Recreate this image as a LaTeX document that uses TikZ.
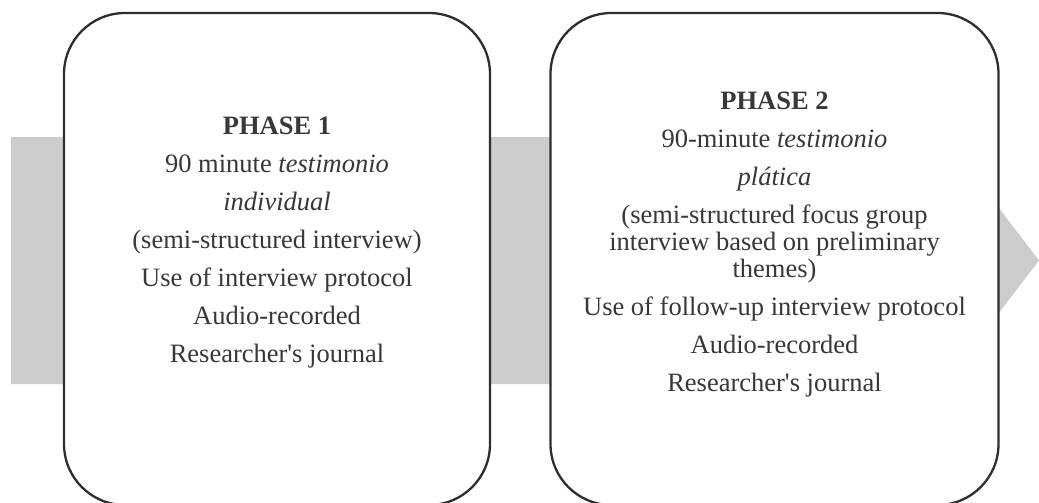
\documentclass[tikz,border=0pt]{standalone}
\usepackage{fontspec}
\setmainfont{Liberation Serif}
\usetikzlibrary{positioning}
\definecolor{linegray}{HTML}{2E2E2E}
\definecolor{textgray}{HTML}{383838}
\definecolor{bandgray}{HTML}{CCCCCC}

\begin{document}
\begin{tikzpicture}[x=0.5pt, y=-0.5pt,
        phasebox/.style={draw=linegray, line width=1.15pt, fill=white,
            rounded corners=30.5pt, minimum height=246pt, inner sep=0pt},
        phasetext/.style={anchor=north, align=center, inner sep=0pt,
            text=textgray, font=\fontsize{13.25}{19}\selectfont}]
        % Frame
        \useasboundingbox (0,0) rectangle (1039,503);
        \clip (0,0) rectangle (1039,503);
        % Process arrow
        \fill [bandgray] (11,137) -- (916,137) -- (916,100) -- (1039,260.5)
            -- (916,421) -- (916,384) -- (11,384) -- cycle;
        % Phases
        \node [phasebox, minimum width=213pt] (p1) at (277,259) {};
        \node [phasebox, minimum width=224pt] (p2) at (774.5,259) {};
        % Labels
        \node [phasetext] (t1) at (277,117) {\textbf{PHASE 1}\\
            90 minute \textit{testimonio}\\
            \textit{individual}\\
            (semi-structured interview)\\
            Use of interview protocol\\
            Audio-recorded\\
            Researcher\textquotesingle s journal};
        \node [phasetext] (t2) at (774.5,92) {\textbf{PHASE 2}\\
            90-minute \textit{testimonio}\\
            \textit{plática}\\
            (semi-structured focus group\\[-5.5pt]
            interview based on preliminary\\[-5.5pt]
            themes)\\
            Use of follow-up interview protocol\\
            Audio-recorded\\
            Researcher\textquotesingle s journal};
\end{tikzpicture}
\end{document}
